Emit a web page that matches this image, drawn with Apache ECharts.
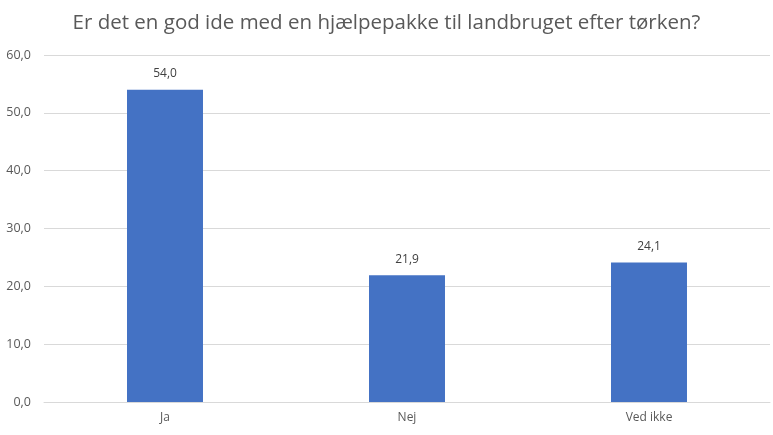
<!DOCTYPE html>
<html>
  <head>
    <meta charset="utf-8" />
    <style>
      html, body {margin: 0; padding: 0; background: #fff;}
      #chart {width: 773px; height: 435px;}
    </style>
    <script src="https://cdn.jsdelivr.net/npm/echarts@6.0.0/dist/echarts.min.js"></script>
  </head>
  <body>
    <div id="chart"></div>
    <script type="text/javascript">
      var categories = ['Ja', 'Nej', 'Ved ikke'];
      var answers = [54.0, 21.9, 24.1];
      var yTicks = [0, 10, 20, 30, 40, 50, 60];

      // danish decimal comma
      function fmt(v) {
        return Number(v).toFixed(1).replace('.', ',');
      }

      var chart = echarts.init(document.getElementById('chart'));
      var font = 'Open Sans, Noto Sans, sans-serif';

      var option = {
        animation: false,
        title: {
          text: 'Er det en god ide med en hjælpepakke til landbruget efter tørken?',
          left: 'center',
          top: 8,
          textStyle: {color: '#595959', fontSize: 20.5, fontWeight: 'normal', fontFamily: font}
        },
        grid: {left: 44, right: 3, top: 55, bottom: 33},
        xAxis: {
          type: 'category',
          data: categories,
          axisTick: {show: false},
          axisLine: {lineStyle: {color: '#d9d9d9'}},
          axisLabel: {color: '#595959', fontSize: 12, fontFamily: font, margin: 10}
        },
        yAxis: {
          type: 'value',
          min: yTicks[0],
          max: yTicks[yTicks.length - 1],
          interval: 10,
          axisLine: {show: false},
          axisTick: {show: false},
          splitLine: {lineStyle: {color: '#d9d9d9'}},
          axisLabel: {color: '#595959', fontSize: 12.5, fontFamily: font, margin: 13, formatter: fmt}
        },
        series: [{
          type: 'bar',
          data: answers,
          barWidth: '31.4%',
          itemStyle: {color: '#4472c4'},
          label: {
            show: true,
            position: 'top',
            distance: 10,
            color: '#404040',
            fontSize: 12,
            fontFamily: font,
            formatter: function (p) { return fmt(p.value); }
          }
        }]
      };

      chart.setOption(option);
    </script>
  </body>
</html>
